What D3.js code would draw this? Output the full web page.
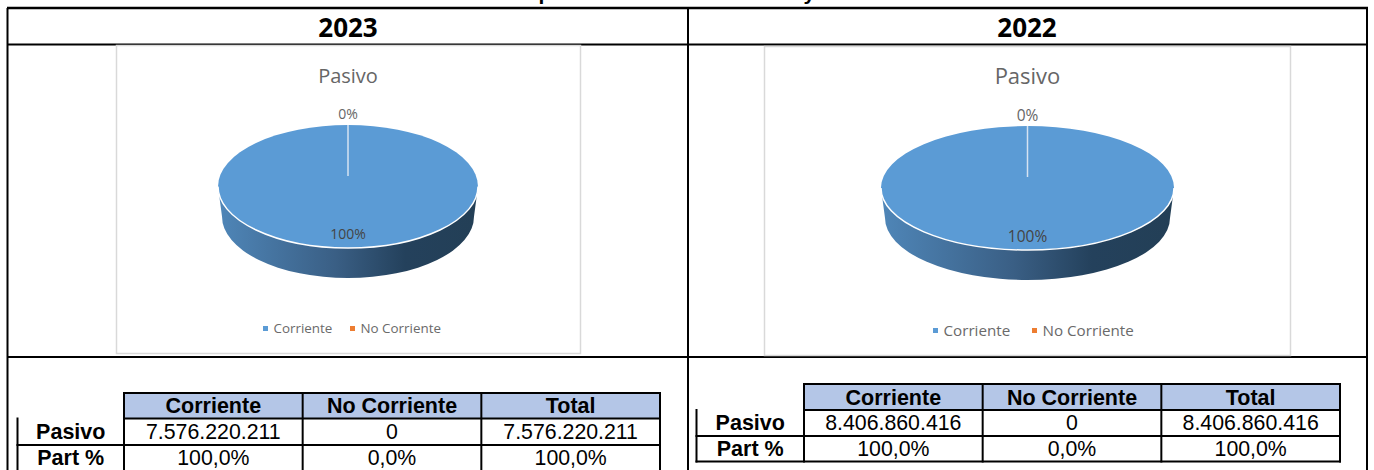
<!DOCTYPE html>
<html>
<head>
<meta charset="utf-8">
<script src="https://cdn.jsdelivr.net/npm/d3@7"></script>
<style>
	html, body { margin: 0; padding: 0; background: #fff; overflow: hidden; }
	svg { display: block; }
</style>
</head>
<body>
<svg id="chart" width="1374" height="470"></svg>
<script>
var chartTitle = 'Gráfica 3. Análisis de composición Pasivo Corriente y No Corriente 2023 - 2022';
var pieTitle = 'Pasivo';
var categories = ['Corriente', 'No Corriente'];
var categoryColors = ['#5b9bd5', '#ed7d31'];
var tableHeaders = ['Corriente', 'No Corriente', 'Total'];
var rowLabels = ['Pasivo', 'Part %'];
var years = ['2023', '2022'];
var values2023 = [7576220211, 0];
var values2022 = [8406860416, 0];

var arial = '"Liberation Sans", Arial, sans-serif';
var calibri = '"Open Sans", "Noto Sans", sans-serif';

var locale = d3.formatLocale({ decimal: ',', thousands: '.', grouping: [3], currency: ['', ''] });
var money = locale.format(',d');
var pctOne = locale.format('.1%');
var pctZero = d3.format('.0%');

var svg = d3.select('#chart');
var defs = svg.append('defs');

// side wall of the fake 3D pie
var wallGradient = defs.append('linearGradient').attr('id', 'wall');
wallGradient.append('stop').attr('offset', '0%').attr('stop-color', '#4f86b8');
wallGradient.append('stop').attr('offset', '45%').attr('stop-color', '#3a5f85');
wallGradient.append('stop').attr('offset', '72%').attr('stop-color', '#24415c');
wallGradient.append('stop').attr('offset', '100%').attr('stop-color', '#233f56');

function label (parent, text, x, y, options) {
	return parent.append('text')
		.attr('x', x)
		.attr('y', y)
		.attr('text-anchor', options.anchor || 'middle')
		.attr('dominant-baseline', 'central')
		.attr('font-family', options.family || arial)
		.attr('font-size', options.size)
		.attr('font-weight', options.weight || 'normal')
		.attr('fill', options.color || '#000')
		.text(text);
}

function rule (x1, y1, x2, y2, width) {
	svg.append('line')
		.attr('x1', x1).attr('y1', y1)
		.attr('x2', x2).attr('y2', y2)
		.attr('stroke', '#000')
		.attr('stroke-width', width || 2);
}

function drawPie (values, o) {
	var g = svg.append('g');
	var total = d3.sum(values);

	g.append('rect')
		.attr('x', o.box[0] + 0.5).attr('y', o.box[1] + 0.5)
		.attr('width', o.box[2] - o.box[0]).attr('height', o.box[3] - o.box[1])
		.attr('fill', '#fff')
		.attr('stroke', '#d9d9d9')
		.attr('stroke-width', 1.5);

	label(g, pieTitle, o.cx, 75, { family: calibri, size: o.titleSize, color: '#666' });

	var wallRx = o.rx - 4;
	g.append('path')
		.attr('d', 'M' + (o.cx - o.rx) + ',' + o.cy +
			'L' + (o.cx - wallRx) + ',' + (o.cy + o.depth - 4) +
			'A' + wallRx + ',' + o.ry + ' 0 0 0 ' + (o.cx + wallRx) + ',' + (o.cy + o.depth - 4) +
			'L' + (o.cx + o.rx) + ',' + o.cy + 'Z')
		.attr('fill', 'url(#wall)');

	// top face, flattened from a circle
	var arcs = d3.pie().sort(null)(values);
	var arc = d3.arc().innerRadius(0).outerRadius(o.rx);
	var flat = g.append('g')
		.attr('transform', 'translate(' + o.cx + ',' + o.cy + ') scale(1,' + (o.ry / o.rx) + ')');
	flat.selectAll('path')
		.data(arcs)
		.enter().append('path')
		.attr('d', arc)
		.attr('fill', function (d, i) { return categoryColors[i]; });

	// white rim along the front edge only
	var rim = d3.arc().innerRadius(o.rx).outerRadius(o.rx).startAngle(Math.PI / 2).endAngle(Math.PI * 1.5);
	flat.append('path')
		.attr('d', rim())
		.attr('fill', 'none')
		.attr('stroke', '#fff')
		.attr('stroke-width', 1.5)
		.attr('vector-effect', 'non-scaling-stroke');

	// the empty slice only shows as a short seam at its angle
	var seamFrom = d3.pointRadial(arcs[1].startAngle, o.ry);
	var seamTo = d3.pointRadial(arcs[1].startAngle, o.ry - 51);
	g.append('line')
		.attr('x1', o.cx + seamFrom[0]).attr('y1', o.cy + seamFrom[1])
		.attr('x2', o.cx + seamTo[0]).attr('y2', o.cy + seamTo[1])
		.attr('stroke', '#d5e3f2')
		.attr('stroke-width', 1.5);

	label(g, pctZero(values[1] / total), o.cx, o.cy - o.ry - 11.5, { family: calibri, size: o.pctSize, color: '#666' });
	label(g, pctZero(values[0] / total), o.cx, o.cy + o.ry - 14.5, { family: calibri, size: o.pctSize, color: '#444' });

	categories.forEach(function (c, i) {
		g.append('rect')
			.attr('x', o.legend[i]).attr('y', o.legendY - 2)
			.attr('width', 5).attr('height', 5)
			.attr('fill', categoryColors[i]);
		label(g, c, o.legend[i] + 10.5, o.legendY, {
			anchor: 'start', family: calibri, size: o.legendSize, color: '#6a6a6a'
		});
	});
}

function drawTable (values, o) {
	var total = d3.sum(values);
	var x = d3.scaleBand().domain(tableHeaders).range([o.x0, o.x1]);
	var amounts = [values[0], values[1], total];
	var parts = amounts.map(function (v) { return v / total; });

	tableHeaders.forEach(function (h, i) {
		var mid = x(h) + x.bandwidth() / 2;
		svg.append('rect')
			.attr('x', x(h)).attr('y', o.rows[0])
			.attr('width', x.bandwidth()).attr('height', o.rows[1] - o.rows[0])
			.attr('fill', '#b4c6e7');
		label(svg, h, mid, (o.rows[0] + o.rows[1]) / 2 + 0.5, { size: 21.5, weight: 'bold' });
		label(svg, money(amounts[i]), mid, (o.rows[1] + o.rows[2]) / 2, { size: 21.3 });
		label(svg, pctOne(parts[i]), mid, (o.rows[2] + o.rows[3]) / 2, { size: 21.3 });
	});
	label(svg, rowLabels[0], (o.labelX + o.x0) / 2, (o.rows[1] + o.rows[2]) / 2, { size: 21.5, weight: 'bold' });
	label(svg, rowLabels[1], (o.labelX + o.x0) / 2, (o.rows[2] + o.rows[3]) / 2, { size: 21.5, weight: 'bold' });

	// grid
	[o.rows[0], o.rows[1]].forEach(function (y) { rule(o.x0 - 1, y, o.x1 + 1, y); });
	rule(o.labelX - 1, o.rows[2], o.x1 + 1, o.rows[2]);
	rule(o.labelX - 1, o.rows[3], o.x1 + 1, o.rows[3]);
	rule(o.labelX, o.rows[1] - 1, o.labelX, o.rows[3] + 1);
	x.domain().forEach(function (h) { rule(x(h), o.rows[0] - 1, x(h), o.rows[3] + 1); });
	rule(o.x1, o.rows[0] - 1, o.x1, o.rows[3] + 1);
}

// outer frame
rule(7, 8, 1368, 8, 2.5);
rule(7, 44.5, 1368, 44.5, 2);
rule(7, 357, 1368, 357, 2);
rule(7.5, 8, 7.5, 470);
rule(688, 8, 688, 470);
rule(1367, 8, 1367, 470);

// the title sits mostly above the crop in the source as well
label(svg, chartTitle, 672, -7.5, { size: 21, weight: 'bold' });
label(svg, years[0], 348, 27, { family: calibri, size: 26, weight: 'bold' });
label(svg, years[1], 1027, 27, { family: calibri, size: 26, weight: 'bold' });

drawPie(values2023, {
	box: [116, 45, 580, 353], cx: 348, cy: 186.5, rx: 130, ry: 61.5, depth: 34,
	legend: [263, 350], legendY: 328, legendSize: 13.4, titleSize: 20, pctSize: 14
});
drawPie(values2022, {
	box: [764, 46, 1290, 355], cx: 1027.5, cy: 188, rx: 146.5, ry: 62, depth: 34,
	legend: [933, 1032], legendY: 330, legendSize: 15.2, titleSize: 22, pctSize: 15.5
});

drawTable(values2023, { x0: 124, x1: 660, labelX: 17.5, rows: [393, 418.5, 445, 471.5] });
drawTable(values2022, { x0: 804, x1: 1340, labelX: 696.5, rows: [384, 410, 436, 461.5] });
</script>
</body>
</html>
